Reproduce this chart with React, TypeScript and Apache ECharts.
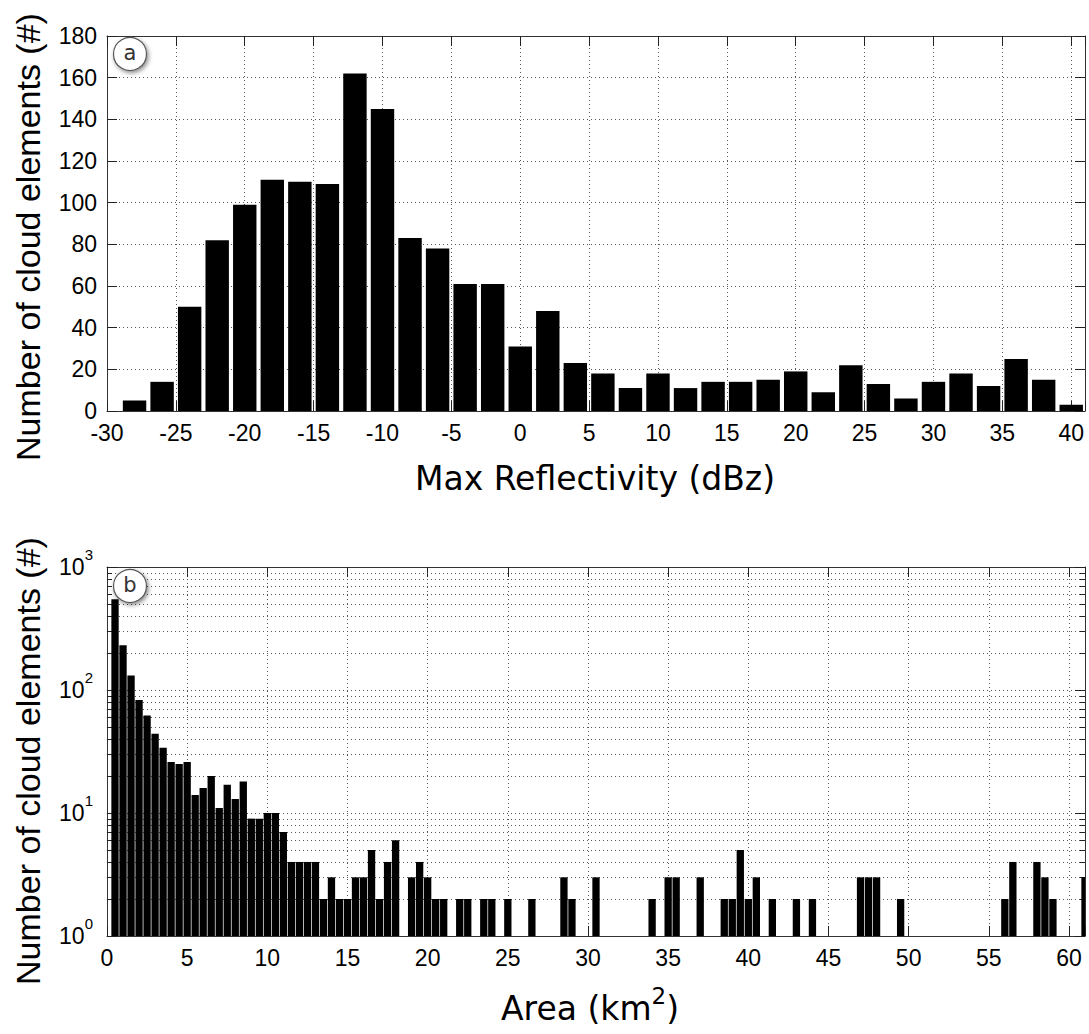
import React, { useEffect, useRef } from 'react';
import * as echarts from 'echarts';

// ---------- data ----------
// Panel a: Max reflectivity histogram (bin centres, dBz) and counts
const reflBins = [-28, -26, -24, -22, -20, -18, -16, -14, -12, -10, -8, -6, -4, -2, 0, 2, 4, 6, 8, 10, 12, 14, 16, 18, 20, 22, 24, 26, 28, 30, 32, 34, 36, 38, 40];
const reflCounts = [5, 14, 50, 82, 99, 111, 110, 109, 162, 145, 83, 78, 61, 61, 31, 48, 23, 18, 11, 18, 11, 14, 14, 15, 19, 9, 22, 13, 6, 14, 18, 12, 25, 15, 3];

// Panel b: Area histogram (bin centres, km^2) – only non-empty bins
const areaBins = [0.5, 1, 1.5, 2, 2.5, 3, 3.5, 4, 4.5, 5, 5.5, 6, 6.5, 7, 7.5, 8, 8.5, 9, 9.5, 10, 10.5, 11, 11.5, 12, 12.5, 13, 13.5, 14, 14.5, 15, 15.5, 16, 16.5, 17, 17.5, 18, 19, 19.5, 20, 20.5, 21, 22, 22.5, 23.5, 24, 25, 26.5, 28.5, 29, 30.5, 34, 35, 35.5, 37, 38.5, 39, 39.5, 40, 40.5, 41.5, 43, 44, 47, 47.5, 48, 49.5, 56, 56.5, 58, 58.5, 59, 61];
const areaCounts = [546, 231, 131, 83, 62, 44, 34, 26, 25, 26, 14, 16, 20, 11, 17, 13, 18, 9, 9, 10, 10, 7, 4, 4, 4, 4, 2, 3, 2, 2, 3, 3, 5, 2, 4, 6, 3, 4, 3, 2, 2, 2, 2, 2, 2, 2, 2, 3, 2, 3, 2, 3, 3, 3, 2, 2, 5, 2, 3, 2, 2, 2, 3, 3, 3, 2, 2, 4, 4, 3, 2, 3];

// Minor log ticks (2..9 per decade)
const minorLogTicks = [2, 3, 4, 5, 6, 7, 8, 9, 20, 30, 40, 50, 60, 70, 80, 90, 200, 300, 400, 500, 600, 700, 800, 900];

// axis ranges / tick steps
const reflAxis = { min: -30, max: 41, step: 5 };
const countAxis = { min: 0, max: 180, step: 20 };
const areaAxis = { min: 0, max: 61, step: 5 };
const logAxis = { min: 1, max: 1000 };

const reflBarWidth = 1.7; // dBz
const areaBarWidth = 0.5; // km^2

const tickFont = "'Liberation Sans', Arial, Helvetica, sans-serif";
const titleFont = "'DejaVu Sans', Verdana, sans-serif";

function makeBarRenderer(width: number, base: number, inset: number) {
  return (params: any, api: any) => {
    const x = api.value(0);
    const v = api.value(1);
    if (!(v > 0)) return null;
    const cs = params.coordSys;
    const p0 = api.coord([x - width / 2, v]);
    const p1 = api.coord([x + width / 2, base]);
    const left = Math.max(p0[0], cs.x) + inset;
    const right = Math.min(p1[0], cs.x + cs.width) - (p1[0] > cs.x + cs.width ? 0 : inset);
    return {
      type: 'rect',
      shape: { x: left, y: p0[1], width: right - left, height: p1[1] - p0[1] },
      style: { fill: '#000' },
    };
  };
}

function minorRenderer(params: any, api: any) {
  const v = api.value(1);
  const cs = params.coordSys;
  const y = Math.round(api.coord([0, v])[1]) + 0.5;
  return {
    type: 'group',
    children: [
      { type: 'line', shape: { x1: cs.x, y1: y, x2: cs.x + cs.width, y2: y }, style: { stroke: '#555', lineWidth: 1, lineDash: [1, 3] } },
      { type: 'line', shape: { x1: cs.x, y1: y, x2: cs.x + 5, y2: y }, style: { stroke: '#222', lineWidth: 1 } },
      { type: 'line', shape: { x1: cs.x + cs.width - 5, y1: y, x2: cs.x + cs.width, y2: y }, style: { stroke: '#222', lineWidth: 1 } },
    ],
  };
}

const axisLine = { show: true, onZero: false, lineStyle: { color: '#333', width: 1 } };
const axisTick = { show: true, inside: true, length: 10, lineStyle: { color: '#222', width: 1 } };
const splitLine = { show: true, lineStyle: { color: '#555', width: 1, type: [1, 3] } };
const noLabel = { show: false };
const labelStyle = { fontFamily: tickFont, fontSize: 23, color: '#000' };

function buildOption() {
  const gridA = { left: 107, top: 36, width: 978, height: 375 };
  const gridB = { left: 107, top: 567, width: 978, height: 369 };
  const stepLabel = (step: number) => (v: number) => (Math.abs(v / step - Math.round(v / step)) < 1e-9 ? String(v) : '');
  return {
    animation: false,
    backgroundColor: '#fff',
    grid: [gridA, gridB],
    xAxis: [
      {
        gridIndex: 0, type: 'value', position: 'bottom', min: reflAxis.min, max: reflAxis.max, interval: reflAxis.step,
        axisLine, axisTick, splitLine,
        axisLabel: { ...labelStyle, margin: 10, formatter: stepLabel(reflAxis.step) },
      },
      {
        gridIndex: 0, type: 'value', position: 'top', min: reflAxis.min, max: reflAxis.max, interval: reflAxis.step,
        axisLine, axisTick, splitLine: { show: false }, axisLabel: noLabel,
      },
      {
        gridIndex: 1, type: 'value', position: 'bottom', min: areaAxis.min, max: areaAxis.max, interval: areaAxis.step,
        axisLine, axisTick, splitLine,
        axisLabel: { ...labelStyle, margin: 10, formatter: stepLabel(areaAxis.step) },
      },
      {
        gridIndex: 1, type: 'value', position: 'top', min: areaAxis.min, max: areaAxis.max, interval: areaAxis.step,
        axisLine, axisTick, splitLine: { show: false }, axisLabel: noLabel,
      },
    ],
    yAxis: [
      {
        gridIndex: 0, type: 'value', position: 'left', min: countAxis.min, max: countAxis.max, interval: countAxis.step,
        axisLine, axisTick, splitLine,
        axisLabel: { ...labelStyle, margin: 10 },
      },
      {
        gridIndex: 0, type: 'value', position: 'right', min: countAxis.min, max: countAxis.max, interval: countAxis.step,
        axisLine, axisTick, splitLine: { show: false }, axisLabel: noLabel,
      },
      {
        gridIndex: 1, type: 'log', logBase: 10, position: 'left', min: logAxis.min, max: logAxis.max,
        axisLine, axisTick, splitLine,
        axisLabel: {
          margin: 14,
          formatter: (v: number) => `{b|10}{s|${Math.round(Math.log10(v))}}`,
          rich: {
            b: { fontFamily: tickFont, fontSize: 23, color: '#000', lineHeight: 40 },
            s: { fontFamily: tickFont, fontSize: 15, color: '#000', lineHeight: 15, verticalAlign: 'top' },
          },
        },
      },
      {
        gridIndex: 1, type: 'log', logBase: 10, position: 'right', min: logAxis.min, max: logAxis.max,
        axisLine, axisTick, splitLine: { show: false }, axisLabel: noLabel,
      },
    ],
    series: [
      {
        type: 'custom', name: 'Max Reflectivity', xAxisIndex: 0, yAxisIndex: 0, silent: true, z: 3,
        encode: { x: 0, y: 1 },
        data: reflBins.map((b, i) => [b, reflCounts[i]]),
        renderItem: makeBarRenderer(reflBarWidth, 0, 0),
      },
      {
        type: 'custom', name: 'minor grid', xAxisIndex: 2, yAxisIndex: 2, silent: true, z: 1,
        encode: { x: 0, y: 1 },
        data: minorLogTicks.map((v) => [areaAxis.min, v]),
        renderItem: minorRenderer,
      },
      {
        type: 'custom', name: 'Area', xAxisIndex: 2, yAxisIndex: 2, silent: true, z: 3,
        encode: { x: 0, y: 1 },
        data: areaBins.map((b, i) => [b, areaCounts[i]]),
        renderItem: makeBarRenderer(areaBarWidth, 1, 0.35),
      },
    ],
    graphic: [
      {
        type: 'text', x: 28, y: 237, rotation: Math.PI / 2, z: 100,
        style: { text: 'Number of cloud elements (#)', fontFamily: tickFont, fontSize: 34, fill: '#000', align: 'center', verticalAlign: 'middle' },
      },
      {
        type: 'text', x: 28, y: 761, rotation: Math.PI / 2, z: 100,
        style: { text: 'Number of cloud elements (#)', fontFamily: tickFont, fontSize: 34, fill: '#000', align: 'center', verticalAlign: 'middle' },
      },
      {
        type: 'text', x: 595, y: 478, z: 100,
        style: { text: 'Max Reflectivity (dBz)', fontFamily: titleFont, fontSize: 33, fill: '#000', align: 'center', verticalAlign: 'middle' },
      },
      {
        type: 'text', x: 590, y: 1008, z: 100,
        style: {
          text: '{t|Area (km}{s|2}{t|)}', align: 'center', verticalAlign: 'middle',
          rich: {
            t: { fontFamily: titleFont, fontSize: 33, fill: '#000', lineHeight: 48 },
            s: { fontFamily: titleFont, fontSize: 23, fill: '#000', lineHeight: 23, verticalAlign: 'top' },
          },
        },
      },
      {
        type: 'circle', z: 100, shape: { cx: 130, cy: 54, r: 16.5 },
        style: { fill: '#fff', stroke: '#555', lineWidth: 1.2, shadowBlur: 4, shadowColor: 'rgba(0,0,0,0.45)', shadowOffsetX: 1.5, shadowOffsetY: 2 },
      },
      {
        type: 'text', z: 101, x: 130, y: 53,
        style: { text: 'a', fontFamily: titleFont, fontSize: 21, fill: '#333', align: 'center', verticalAlign: 'middle' },
      },
      {
        type: 'circle', z: 100, shape: { cx: 130, cy: 586, r: 16.5 },
        style: { fill: '#fff', stroke: '#555', lineWidth: 1.2, shadowBlur: 4, shadowColor: 'rgba(0,0,0,0.45)', shadowOffsetX: 1.5, shadowOffsetY: 2 },
      },
      {
        type: 'text', z: 101, x: 130, y: 585,
        style: { text: 'b', fontFamily: titleFont, fontSize: 21, fill: '#333', align: 'center', verticalAlign: 'middle' },
      },
    ],
  };
}

export default function App() {
  const ref = useRef<HTMLDivElement>(null);
  useEffect(() => {
    document.body.style.margin = '0';
    if (!ref.current) return;
    const chart = echarts.init(ref.current, undefined, { renderer: 'svg' });
    chart.setOption(buildOption() as any);
    return () => chart.dispose();
  }, []);
  return <div ref={ref} style={{ width: 1089, height: 1034 }} />;
}
